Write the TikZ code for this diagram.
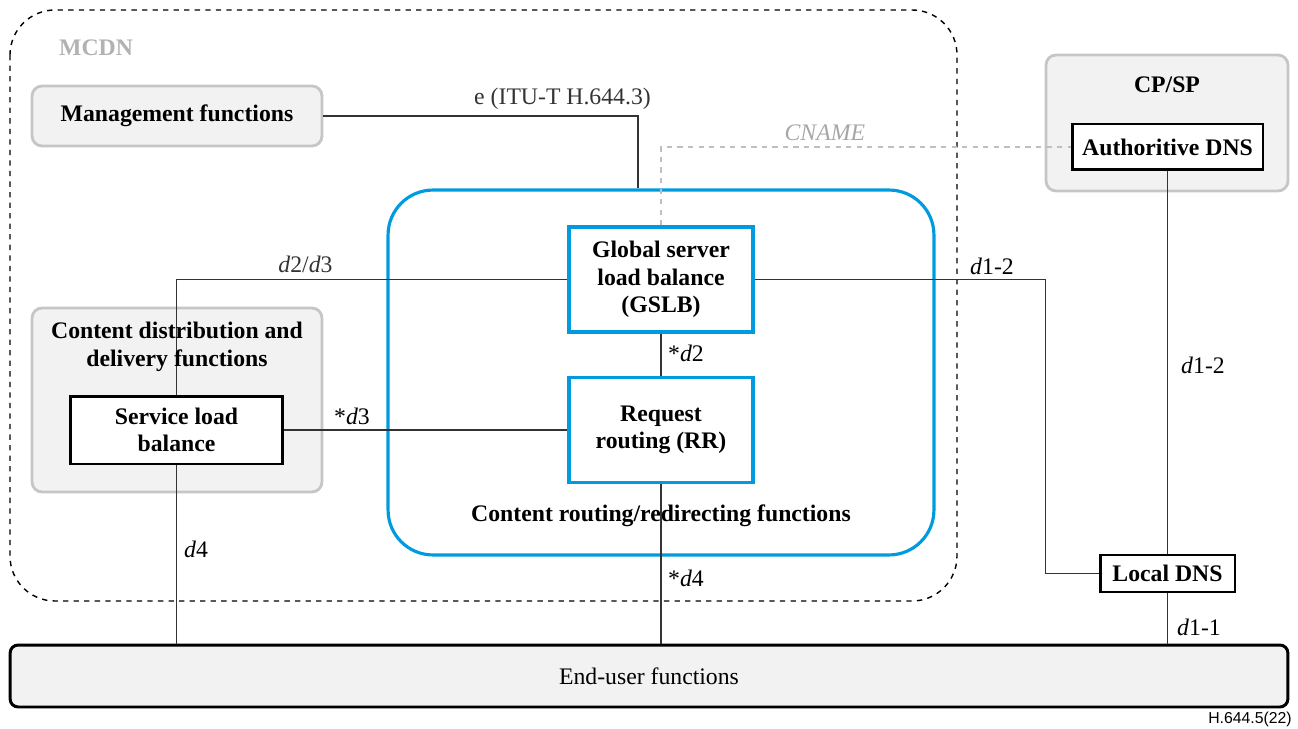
\documentclass[tikz,border=0pt]{standalone}
\usepackage{fontspec}
\setmainfont{Liberation Serif}
\setsansfont{Liberation Sans}
\newfontfamily\itutimes{Liberation Serif}
\usetikzlibrary{arrows.meta, positioning}
\definecolor{crblue}{RGB}{0,155,222}

\begin{document}
\begin{tikzpicture}[
    x=0.02cm, y=-0.02cm,
    font=\itutimes\fontsize{13.5}{15.6}\selectfont,
    group/.style={draw=gray!45, line width=1.6pt, fill=gray!10,
                  rounded corners=0.2cm, align=center},
    func/.style={draw, line width=1.7pt, fill=white, align=center,
                 font=\itutimes\fontsize{13.5}{15.6}\selectfont\bfseries},
    crbox/.style={draw=crblue, line width=1.8pt, fill=white, align=center,
                  font=\itutimes\fontsize{13.5}{15.6}\selectfont\bfseries,
                  minimum width=3.68cm, minimum height=2.1cm},
    title/.style={font=\itutimes\fontsize{13.5}{15.6}\selectfont\bfseries, align=center},
    link/.style={line width=0.8pt, black!80},
    lbl/.style={font=\itutimes\fontsize{13.5}{15.6}\selectfont}
  ]
  \useasboundingbox (0,0) rectangle (1298,729);

  % MCDN domain
  \draw[dashed, line width=0.8pt, rounded corners=0.9cm] (10,10) rectangle (957,601);
  \node[title, text=gray!60] (mcdn) at (96,48) {MCDN};

  % Groups
  \node[group, title, minimum width=5.8cm, minimum height=1.2cm] (mgmt) at (177,116)
    {Management functions};
  \node[group, minimum width=5.8cm, minimum height=3.68cm] (cdd) at (177,400) {};
  \node[group, minimum width=4.84cm, minimum height=2.72cm] (cpsp) at (1167,123) {};
  \node[draw=crblue, line width=1.8pt, rounded corners=0.9cm,
        minimum width=10.92cm, minimum height=7.3cm] (crr) at (661,372.5) {};

  % Functions
  \node[crbox] (gslb) at (661,279.5) {Global server\\load balance\\(GSLB)};
  \node[crbox] (rr) at (661,430) {Request\\routing (RR)};
  \node[title] (crrlbl) at (661,516) {Content routing/redirecting functions};
  \node[func, minimum width=4.26cm, minimum height=1.36cm] (slb) at (176.5,430)
    {Service load\\balance};
  \node[title] (cpsplbl) at (1167,85) {CP/SP};
  \node[func, minimum width=3.82cm, minimum height=0.92cm] (adns) at (1167.5,147)
    {Authoritive DNS};
  \node[func, minimum width=2.7cm, minimum height=0.74cm] (ldns) at (1167.5,573.5)
    {Local DNS};
  \node[draw, line width=1.7pt, fill=gray!10, rounded corners=0.16cm,
        minimum width=25.56cm, minimum height=1.24cm] (eu) at (649,676)
    {End-user functions};

  % Links
  \draw[link] (mgmt.east) -| ([xshift=-0.46cm]crr.north)
    node[pos=0.38, above, lbl] {e (ITU-T H.644.3)};
  \draw[link, gray!50, dashed] (gslb.north) |- (adns.west)
    node[pos=0.7, above, lbl, text=gray!70, font=\itutimes\fontsize{13.5}{15.6}\selectfont\itshape]
    {CNAME};
  \draw[link] (gslb.west) -| (slb.north)
    node[pos=0.335, above, lbl] {\textit{d}2/\textit{d}3};
  \draw[link] (gslb.east) -| ([xshift=-1.06cm]ldns.west) -- (ldns.west);
  \draw[link] (adns.south) -- (ldns.north);
  \draw[link] (ldns.south) -- (ldns.south |- eu.north);
  \draw[link] (gslb.south) -- (rr.north);
  \draw[link] (slb.east) -- (rr.west);
  \draw[link] (rr.south) -- (rr.south |- eu.north);
  \draw[link] (slb.south) -- (slb.south |- eu.north);
  \node[title] (cddlbl) at (177,347) {Content distribution and\\delivery functions};

  % Reference labels
  \node[lbl] (ld2) at (686,353) {*\textit{d}2};
  \node[lbl] (ld3) at (352,416) {*\textit{d}3};
  \node[lbl] (ld4a) at (196,549) {\textit{d}4};
  \node[lbl] (ld4b) at (686,578) {*\textit{d}4};
  \node[lbl] (ld12a) at (992,266) {\textit{d}1-2};
  \node[lbl] (ld12b) at (1203,365) {\textit{d}1-2};
  \node[lbl] (ld11) at (1199,627) {\textit{d}1-1};
  \node[font=\sffamily\fontsize{9}{10}\selectfont] (fig) at (1250,719) {H.644.5(22)};
\end{tikzpicture}
\end{document}
